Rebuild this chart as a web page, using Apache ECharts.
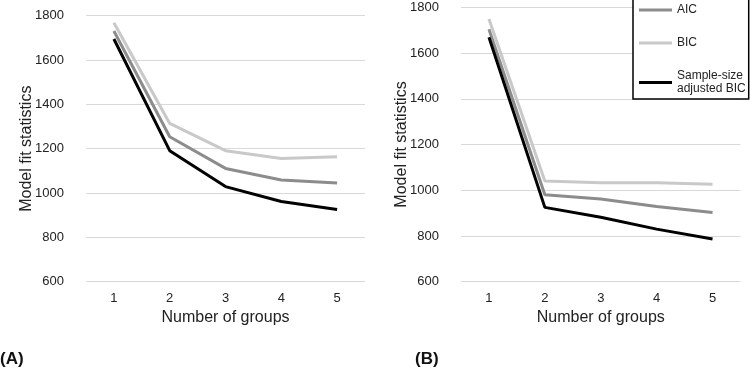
<!DOCTYPE html>
<html>
<head>
<meta charset="utf-8">
<script src="https://cdn.jsdelivr.net/npm/echarts@6/dist/echarts.min.js"></script>
<style>
html, body { margin: 0; padding: 0; background: #fff; }
#main { width: 750px; height: 371px; }
</style>
</head>
<body>
<div id="main"></div>
<script>
var groups = ['1', '2', '3', '4', '5'];
var seriesNames = ['AIC', 'BIC', 'Sample-size adjusted BIC'];
// panel (A)
var aicA = [1731, 1254, 1111, 1059, 1045];
var bicA = [1768, 1314, 1191, 1156, 1164];
var sabicA = [1695, 1191, 1029, 962, 926];
// panel (B)
var aicB = [1704, 980, 962, 929, 903];
var bicB = [1749, 1040, 1033, 1033, 1026];
var sabicB = [1669, 925, 882, 830, 787];

var colors = ['#8c8c8c', '#c9c9c9', '#000000'];
var font = 'Liberation Sans, Arial, sans-serif';

function xAx(idx) {
    return {
        type: 'category', gridIndex: idx, data: groups,
        name: 'Number of groups', nameLocation: 'middle', nameGap: 28,
        nameTextStyle: {fontSize: 16, color: '#222', fontFamily: font},
        axisLine: {show: false}, axisTick: {show: false},
        axisLabel: {fontSize: 13, color: '#222', margin: 10, fontFamily: font}
    };
}
function yAx(idx) {
    return {
        type: 'value', gridIndex: idx, min: 600, max: 1800, interval: 200,
        name: 'Model fit statistics', nameLocation: 'middle', nameGap: 51,
        nameMoveOverlap: false,
        nameTextStyle: {fontSize: 16, color: '#222', fontFamily: font},
        axisLine: {show: false}, axisTick: {show: false},
        axisLabel: {fontSize: 13, color: '#222', margin: 22, fontFamily: font,
                    formatter: function (v) { return String(v); }},
        splitLine: {lineStyle: {color: '#d9d9d9', width: 1}}
    };
}
function line(name, data, idx, color) {
    return {
        name: name, type: 'line', data: data,
        xAxisIndex: idx, yAxisIndex: idx,
        showSymbol: false, symbol: 'none', animation: false,
        lineStyle: {color: color, width: 3},
        itemStyle: {color: color}
    };
}

var chart = echarts.init(document.getElementById('main'));
chart.setOption({
    animation: false,
    grid: [
        {left: 86, top: 15.7, width: 279, height: 266},
        {left: 461, top: 7.3, width: 279.5, height: 274.4}
    ],
    xAxis: [xAx(0), xAx(1)],
    yAxis: [yAx(0), yAx(1)],
    legend: {
        orient: 'vertical', left: 633, top: -3,
        padding: [6.5, 3, 3.5, 6], itemGap: 20,
        itemWidth: 33, itemHeight: 3, icon: 'rect',
        borderColor: '#000', borderWidth: 1.5,
        backgroundColor: '#fff',
        data: seriesNames,
        formatter: function (n) {
            return n === 'Sample-size adjusted BIC' ? 'Sample-size\nadjusted BIC' : n;
        },
        textStyle: {fontSize: 12, color: '#222', fontFamily: font, lineHeight: 13}
    },
    graphic: [
        {type: 'text', left: 0, top: 351, style: {text: '(A)', font: 'bold 17px ' + font, fill: '#111'}},
        {type: 'text', left: 415, top: 351, style: {text: '(B)', font: 'bold 17px ' + font, fill: '#111'}}
    ],
    series: [
        line(seriesNames[0], aicA, 0, colors[0]),
        line(seriesNames[1], bicA, 0, colors[1]),
        line(seriesNames[2], sabicA, 0, colors[2]),
        line(seriesNames[0], aicB, 1, colors[0]),
        line(seriesNames[1], bicB, 1, colors[1]),
        line(seriesNames[2], sabicB, 1, colors[2])
    ]
});
</script>
</body>
</html>
